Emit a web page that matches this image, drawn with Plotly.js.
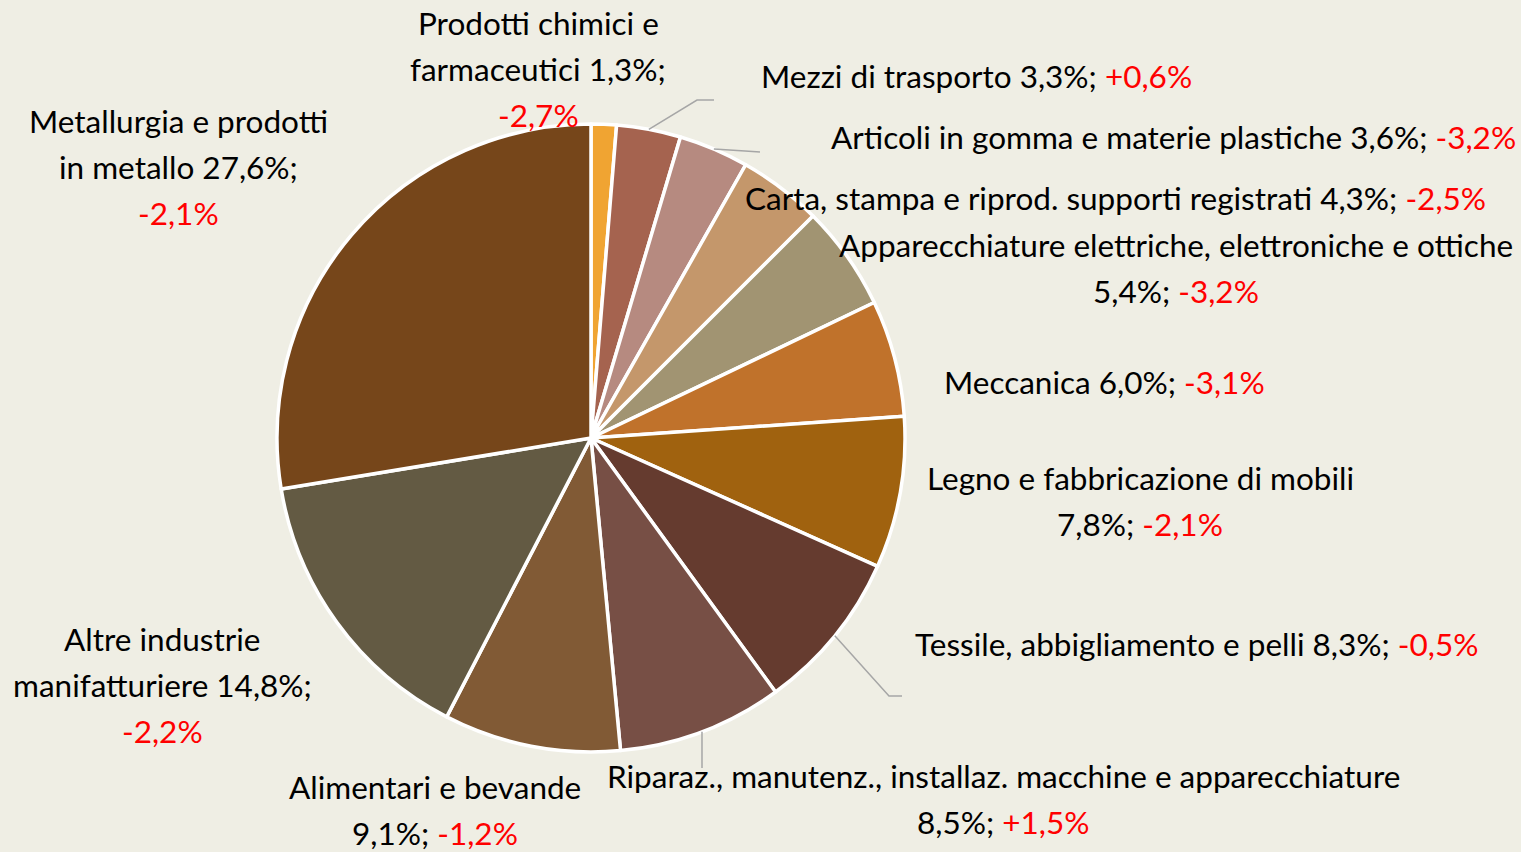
<!DOCTYPE html>
<html>
<head>
<meta charset="utf-8">
<script src="https://cdn.plot.ly/plotly-3.0.1.min.js"></script>
<style>
  html, body { margin: 0; padding: 0; background: #efeee4; }
  #myDiv { width: 1521px; height: 852px; }
</style>
</head>
<body>
<div id="myDiv"></div>
<script>
// Settori manifatturieri: quota % e variazione (clockwise from 12 o'clock)
var sectorLines = [
  ['Prodotti chimici e', 'farmaceutici'],
  ['Mezzi di trasporto'],
  ['Articoli in gomma e materie plastiche'],
  ['Carta, stampa e riprod. supporti registrati'],
  ['Apparecchiature elettriche, elettroniche e ottiche'],
  ['Meccanica'],
  ['Legno e fabbricazione di mobili'],
  ['Tessile, abbigliamento e pelli'],
  ['Riparaz., manutenz., installaz. macchine e apparecchiature'],
  ['Alimentari e bevande'],
  ['Altre industrie', 'manifatturiere'],
  ['Metallurgia e prodotti', 'in metallo']
];
var shares = [1.3, 3.3, 3.6, 4.3, 5.4, 6.0, 7.8, 8.3, 8.5, 9.1, 14.8, 27.6];
var changes = ['-2,7%', '+0,6%', '-3,2%', '-2,5%', '-3,2%', '-3,1%', '-2,1%', '-0,5%', '+1,5%', '-1,2%', '-2,2%', '-2,1%'];
var colors = ['#f0a432', '#a5634f', '#b68a80', '#c4976b', '#a19472', '#c0722b', '#a0620f',
              '#653b2f', '#774f45', '#815a35', '#635a43', '#76461a'];

// how each label is broken into lines (share / change go on which line)
// 'same' = share and change appended to last name line, 'next' = share;change on a new line,
// 'split' = share on last name line, change on next line
var labelMode = ['split', 'same', 'same', 'same', 'next', 'same', 'next', 'same', 'next', 'next', 'split', 'split'];

// label block centres in pixels
var labelPos = [[538, 69], [976, 76], [1173, 137], [1115, 198], [1176, 268], [1104, 382],
                [1140, 501], [1196, 644], [1003, 799], [435, 810], [162, 685], [178, 167]];

var W = 1521, H = 852;
var cx = 591, cy = 438, R = 314;
var lineGap = 46;
var fontFam = 'Lato, "Open Sans", sans-serif';
var fontSize = 31.5;

function px(x) { return x / W; }
function py(y) { return 1 - y / H; }

var trace = {
  type: 'pie',
  values: shares,
  labels: sectorLines.map(function(l) { return l.join(' '); }),
  sort: false,
  direction: 'clockwise',
  rotation: 0,
  textinfo: 'none',
  hoverinfo: 'label+percent',
  marker: { colors: colors, line: { color: '#ffffff', width: 3.5 } },
  domain: { x: [px(cx - R), px(cx + R)], y: [py(cy + R), py(cy - R)] },
  showlegend: false
};

var red = function(s) { return '<span style="color:#ff0000">' + s + '</span>'; };

var annotations = [];
sectorLines.forEach(function(name, i) {
  var share = shares[i].toFixed(1).replace('.', ',') + '%;';
  var lines = name.slice();
  var last = lines.length - 1;
  if (labelMode[i] === 'same') {
    lines[last] = lines[last] + ' ' + share + ' ' + red(changes[i]);
  } else if (labelMode[i] === 'next') {
    lines.push(share + ' ' + red(changes[i]));
  } else {
    lines[last] = lines[last] + ' ' + share;
    lines.push(red(changes[i]));
  }
  var y0 = labelPos[i][1] - (lines.length - 1) * lineGap / 2;
  lines.forEach(function(t, k) {
    annotations.push({
      xref: 'paper', yref: 'paper',
      x: px(labelPos[i][0]), y: py(y0 + k * lineGap),
      xanchor: 'center', yanchor: 'middle',
      text: t, showarrow: false,
      font: { family: fontFam, size: fontSize, color: '#000000' }
    });
  });
});

// leader lines start on the rim at each slice's mid angle
var cum = [];
shares.reduce(function(a, v, i) { cum[i] = a + v / 2; return a + v; }, 0);
function rim(i) {
  var a = cum[i] / 100 * 2 * Math.PI;
  return [cx + R * Math.sin(a), cy - R * Math.cos(a)];
}
var leaders = [
  { idx: 1, pts: [[697, 100], [714, 100]] },
  { idx: 2, pts: [[745, 151], [760, 152]] },
  { idx: 7, pts: [[889, 696], [902, 696]] },
  { idx: 8, pts: [[702, 768]] }
];
var shapes = leaders.map(function(l) {
  var s = rim(l.idx);
  var path = 'M' + px(s[0]) + ',' + py(s[1]);
  l.pts.forEach(function(p) { path += ' L' + px(p[0]) + ',' + py(p[1]); });
  return {
    type: 'path', xref: 'paper', yref: 'paper', path: path,
    line: { color: '#a6a6a6', width: 1.5 }
  };
});

var layout = {
  width: W,
  height: H,
  margin: { l: 0, r: 0, t: 0, b: 0, pad: 0 },
  paper_bgcolor: '#efeee4',
  plot_bgcolor: '#efeee4',
  showlegend: false,
  annotations: annotations,
  shapes: shapes
};

Plotly.newPlot('myDiv', [trace], layout, { displayModeBar: false, staticPlot: true });
</script>
</body>
</html>
